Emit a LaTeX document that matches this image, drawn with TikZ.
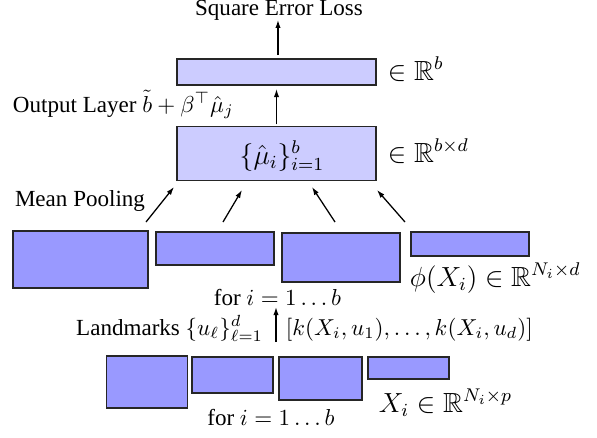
\documentclass[tikz,border=0pt]{standalone}
\usepackage[no-math]{fontspec}
\setmainfont{Liberation Serif}
\usepackage{amsmath,amssymb}
\usetikzlibrary{arrows.meta}
\begin{document}
\begin{tikzpicture}[x=0.4338pt,y=-0.4338pt,
  box/.style={draw=black!85, line width=0.65pt, inner sep=0pt, outer sep=0pt},
  light/.style={box, fill=blue!20},
  dark/.style={box, fill=blue!40},
  arr/.style={-{Latex[length=3.5pt,width=2.3pt]}, line width=0.55pt},
  lbl/.style={inner sep=0pt, outer sep=0pt},
  big/.style={lbl, font=\fontsize{12}{14}\selectfont}]
\useasboundingbox (0,0) rectangle (597,438);
% boxes (sizes in pt = px * 0.4338)
\node[light, minimum width=86.3pt, minimum height=11.3pt] (out) at (276.5,72) {};
\node[light, minimum width=86.3pt, minimum height=23.4pt] (mean) at (276.5,153.5) {};
\node[dark, minimum width=58.6pt, minimum height=24.7pt] (phi1) at (80.5,259.5) {};
\node[dark, minimum width=51.2pt, minimum height=14.3pt] (phi2) at (215,248.5) {};
\node[dark, minimum width=51.2pt, minimum height=21.3pt] (phi3) at (341,257.5) {};
\node[dark, minimum width=51.2pt, minimum height=10.4pt] (phi4) at (470,244) {};
\node[dark, minimum width=35.1pt, minimum height=22.6pt] (x1) at (147,382) {};
\node[dark, minimum width=35.1pt, minimum height=15.6pt] (x2) at (232.5,375) {};
\node[dark, minimum width=36.0pt, minimum height=18.7pt] (x3) at (320.5,378.5) {};
\node[dark, minimum width=35.1pt, minimum height=9.5pt] (x4) at (408.5,368) {};
% texts
\node[lbl, anchor=base] (loss) at (279,15) {Square Error Loss};
\node[big, anchor=base west] (rb) at (388,80) {$\in \mathbb{R}^{b}$};
\node[lbl, anchor=base west] (outlbl) at (13,112) {Output Layer $\tilde{b} + \beta^{\top}\hat{\mu}_j$};
\node[big, anchor=base] (mu) at (282,164) {$\{\hat{\mu}_i\}_{i=1}^{b}$};
\node[big, anchor=base west] (rbd) at (388,162) {$\in \mathbb{R}^{b\times d}$};
\node[lbl, anchor=base west] (pool) at (15,206) {Mean Pooling};
\node[big, anchor=base west] (philbl) at (410,286) {$\phi(X_i) \in \mathbb{R}^{N_i\times d}$};
\node[lbl, anchor=base] (for1) at (277.5,305) {for $i = 1\ldots b$};
\node[lbl, anchor=base east] (land) at (263,335) {Landmarks $\{u_\ell\}_{\ell=1}^{d}$};
\node[lbl, anchor=base west] (kern) at (286,335) {$[k(X_i,u_1),\ldots,k(X_i,u_d)]$};
\node[big, anchor=base west] (xlbl) at (379,412) {$X_i \in \mathbb{R}^{N_i\times p}$};
\node[lbl, anchor=base] (for2) at (271,425) {for $i = 1\ldots b$};
% arrows
\coordinate (outtop) at (278,59);
\draw[arr, shorten <=1.7pt] (outtop) -- (outtop |- loss.south);
\draw[arr, shorten <=0.9pt, shorten >=1.7pt] (mean.north) -- (out.south);
\coordinate (p1a) at (146,222); \coordinate (p1b) at (174,187);
\coordinate (p2a) at (223,222); \coordinate (p2b) at (242,190);
\coordinate (p3a) at (335,222); \coordinate (p3b) at (312,187);
\coordinate (p4a) at (405,222); \coordinate (p4b) at (377,190);
\draw[arr] (p1a) -- (p1b);
\draw[arr] (p2a) -- (p2b);
\draw[arr] (p3a) -- (p3b);
\draw[arr] (p4a) -- (p4b);
\coordinate (la) at (276,342); \coordinate (lb) at (276,307);
\draw[arr] (la) -- (lb);
\end{tikzpicture}
\end{document}
